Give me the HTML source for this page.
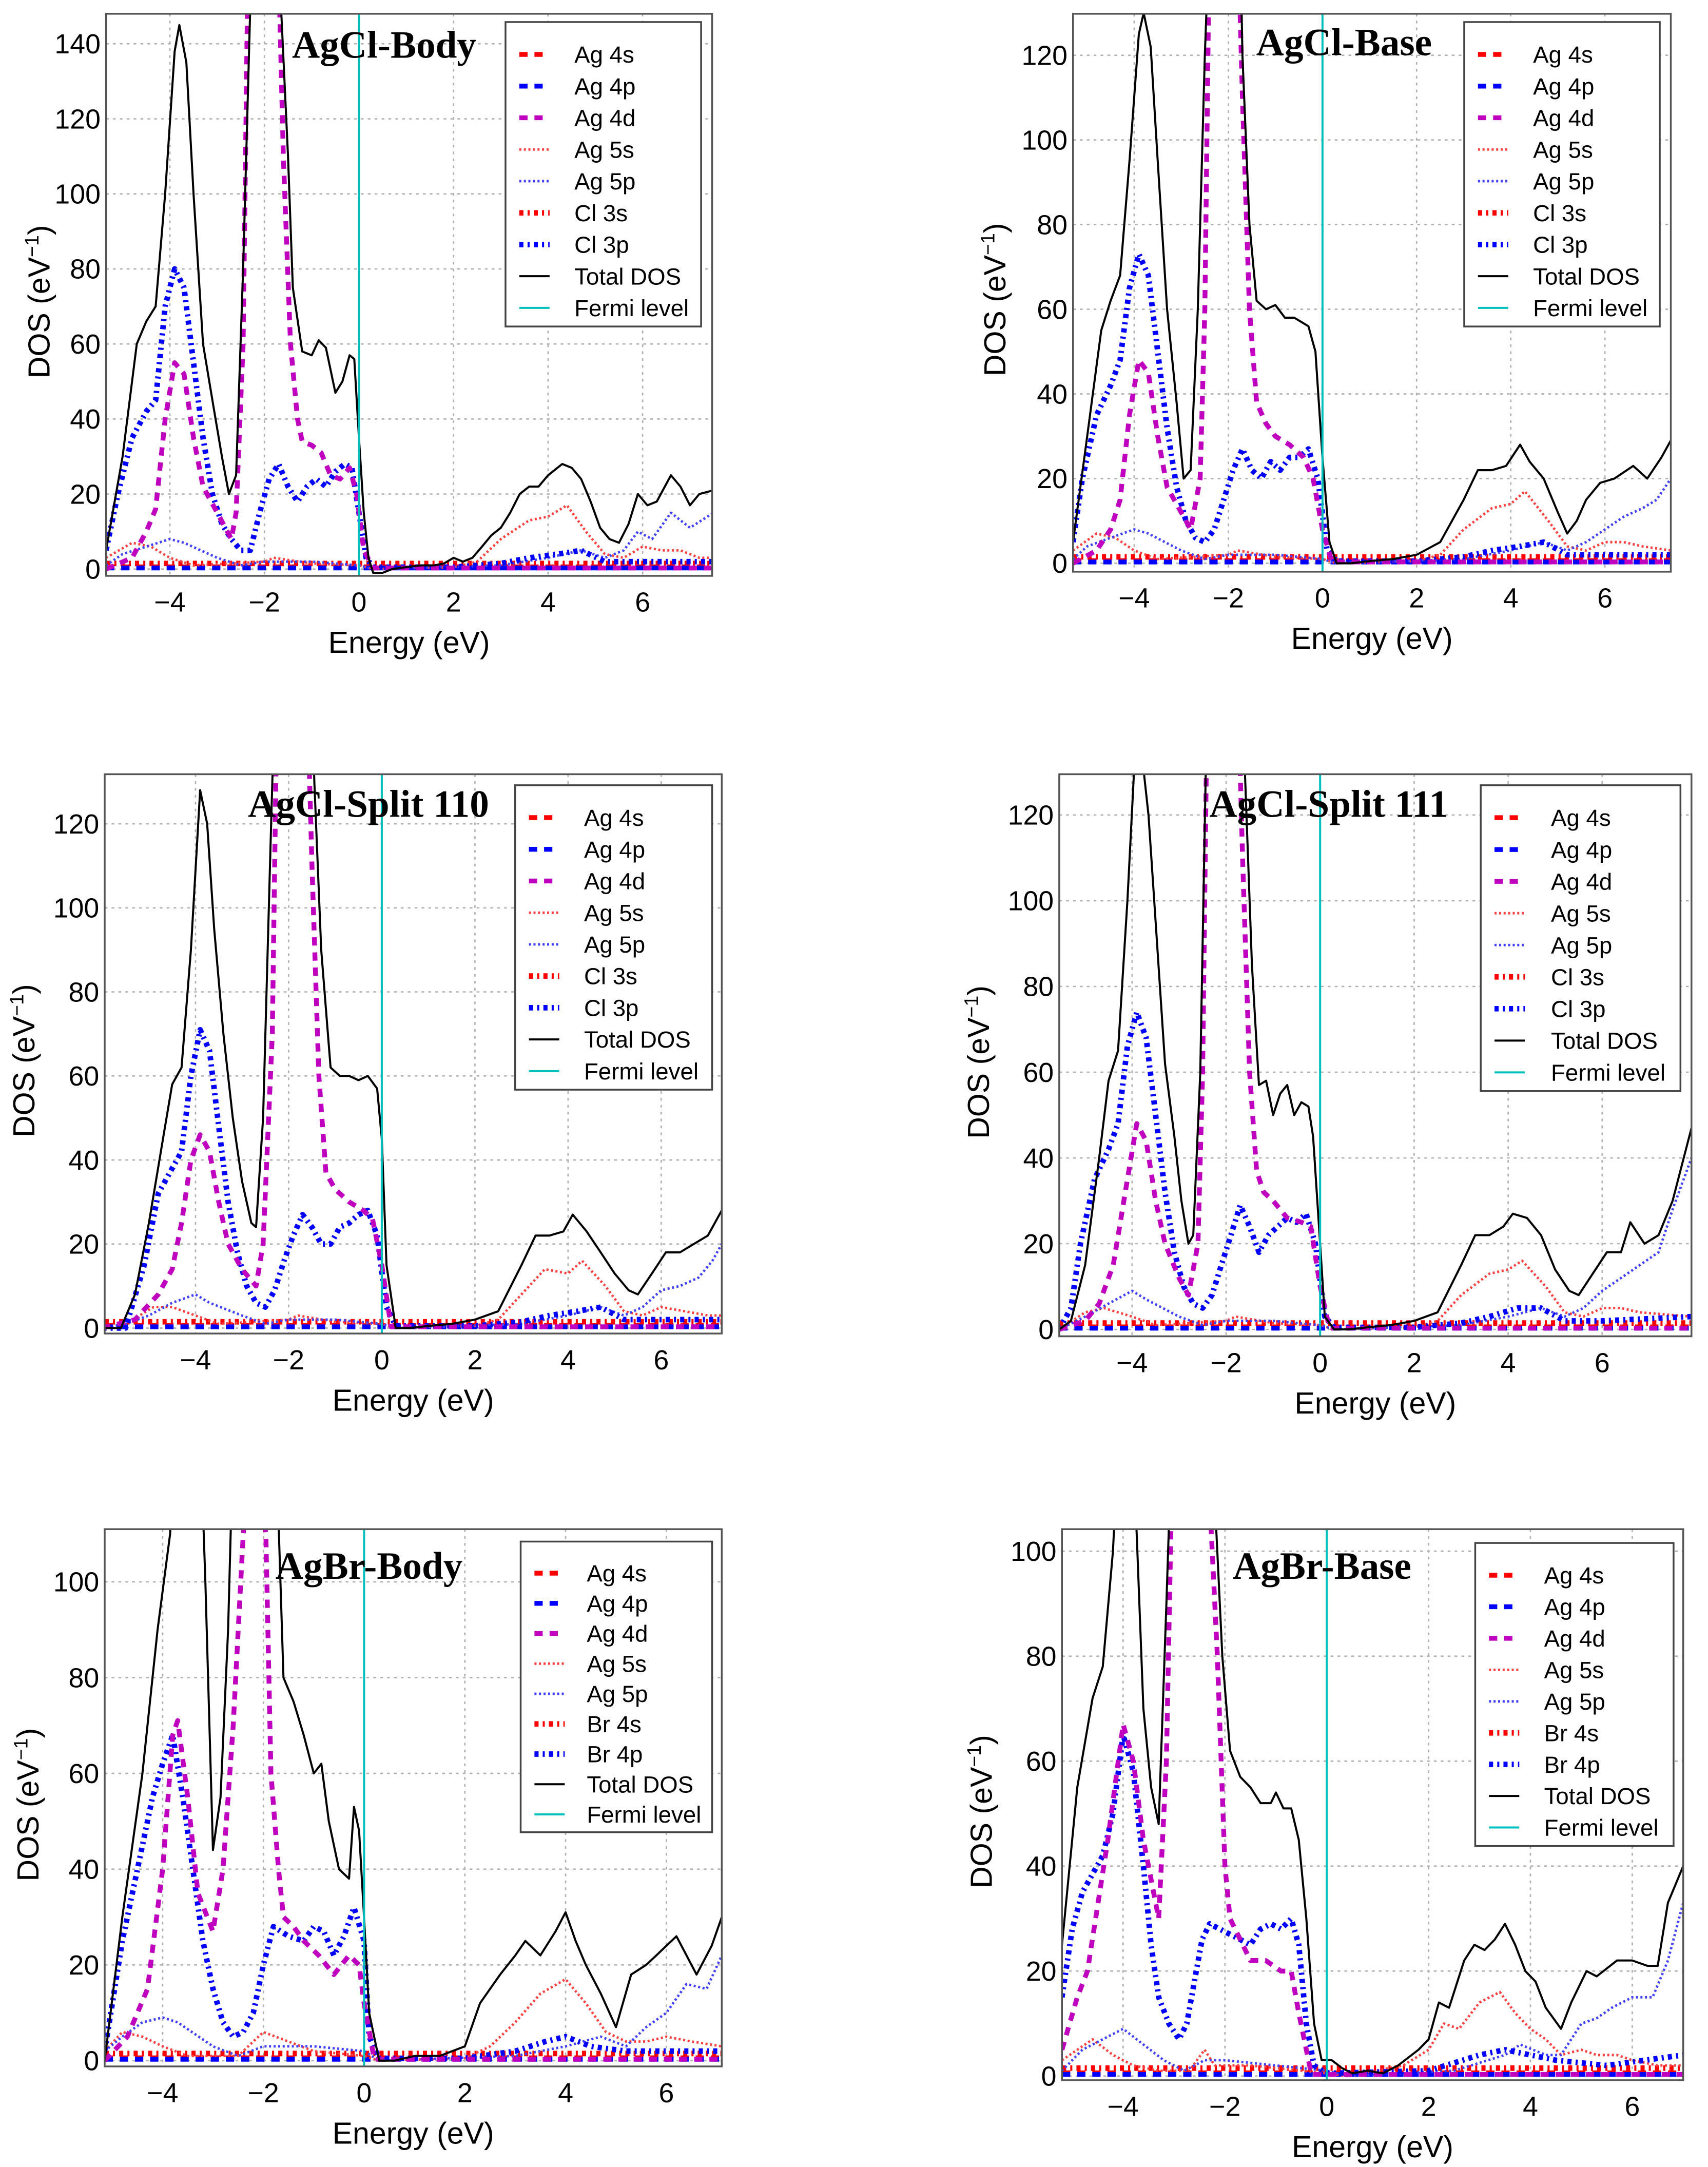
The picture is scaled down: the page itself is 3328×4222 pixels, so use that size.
<!DOCTYPE html>
<html><head><meta charset="utf-8"><style>
html,body{margin:0;padding:0;background:#fff}
svg{display:block}
text{font-family:"Liberation Sans",sans-serif}
.title{font-family:"Liberation Serif",serif;font-weight:bold}
</style></head><body>
<svg id="fig" width="3328" height="4222" viewBox="0 0 1240 1573" preserveAspectRatio="none" xmlns="http://www.w3.org/2000/svg"></svg>
<script>
// ---- Panel 1: AgCl-Body ----
const p1TotE=[-5.35,-5,-4.7,-4.5,-4.3,-4.1,-3.9,-3.8,-3.65,-3.5,-3.3,-3.1,-2.9,-2.75,-2.6,-2.45,-2.3,-2.25,-1.7,-1.65,-1.5,-1.4,-1.2,-1.0,-0.85,-0.7,-0.5,-0.35,-0.2,-0.1,0,0.1,0.2,0.3,0.5,0.7,1.0,1.3,1.6,1.8,2.0,2.2,2.4,2.6,2.8,3.0,3.2,3.4,3.6,3.8,4.0,4.3,4.5,4.7,4.9,5.1,5.3,5.5,5.7,5.9,6.1,6.3,6.6,6.8,7.0,7.2,7.5];
const p1TotD=[5,30,60,66,70,100,138,145,135,100,60,45,30,20,25,80,150,170,170,150,110,75,58,57,61,59,47,50,57,56,35,15,3,-1,-1,0,0.5,1,1,1.5,3,2,3,6,9,11,15,20,22,22,25,28,27,24,18,11,8,7,12,20,17,18,25,22,17,20,21];
const p1D4E=[-5.35,-4.8,-4.5,-4.3,-4.1,-3.9,-3.7,-3.5,-3.3,-3.0,-2.7,-2.6,-2.45,-2.35,-1.7,-1.6,-1.45,-1.3,-1.2,-1.0,-0.8,-0.6,-0.4,-0.2,-0.05,0.1,0.3,7.5];
const p1D4D=[0,3,10,16,40,55,52,35,22,15,8,15,60,160,160,110,60,40,34,33,31,25,24,27,20,5,0.3,0.3];
const p1P3E=[-5.35,-5.1,-4.8,-4.5,-4.3,-4.1,-3.9,-3.7,-3.5,-3.3,-3.1,-2.9,-2.7,-2.5,-2.3,-2.1,-1.9,-1.7,-1.5,-1.3,-1.1,-0.9,-0.7,-0.5,-0.3,-0.15,0,0.15,0.3,2,3,3.6,4.2,4.7,5.2,5.6,6.0,7.5];
const p1P3D=[5,20,35,42,45,70,80,75,55,35,20,12,8,5,5,15,24,28,22,18,22,24,22,26,28,27,15,3,0.5,0.5,1.5,3,4,5,2,2,2,2];
const p1S5E=[-5.35,-4.8,-4.4,-4,-3.5,-2,-1.8,-1,0,0.3,2,2.5,3,3.6,4.0,4.4,4.8,5.2,5.6,6.0,6.4,6.8,7.2,7.5];
const p1S5D=[3,7,6,3,1,2,3,1.5,1,0,0.5,2,8,13,14,17,10,4,3,6,5,5,3,3];
const p1P5E=[-5.35,-5,-4.5,-4,-3.7,-3,-2.5,-2,-1,0,0.3,3,4,4.7,5.2,5.6,5.9,6.2,6.6,7.0,7.5];
const p1P5D=[1,4,6,8,7,3,1,2,2,1,0,1,3,5,3,5,10,8,15,11,15];
// ---- Panel 2: AgCl-Base ----
const p2TotE=[-5.3,-5,-4.7,-4.5,-4.3,-4.1,-3.9,-3.8,-3.65,-3.5,-3.3,-3.1,-2.95,-2.8,-2.65,-2.5,-2.4,-1.75,-1.7,-1.55,-1.4,-1.2,-1.0,-0.8,-0.6,-0.3,-0.15,0,0.15,0.3,0.6,1,1.5,2,2.5,3,3.3,3.6,3.9,4.2,4.4,4.7,5.0,5.2,5.4,5.6,5.9,6.2,6.6,6.9,7.2,7.4];
const p2TotD=[5,30,55,62,68,95,125,130,122,95,60,38,20,22,60,120,150,150,120,80,62,60,61,58,58,56,50,25,5,0,0,0.5,1,2,5,15,22,22,23,28,24,20,12,7,10,15,19,20,23,20,25,29];
const p2D4E=[-5.3,-4.8,-4.5,-4.3,-4.1,-3.9,-3.7,-3.5,-3.3,-3.0,-2.8,-2.6,-2.5,-2.4,-1.8,-1.7,-1.55,-1.4,-1.2,-1.0,-0.7,-0.4,-0.2,0,0.2,7.4];
const p2D4D=[0,3,8,15,35,48,45,30,18,12,8,20,60,150,150,110,60,38,33,30,28,25,20,8,0.3,0.3];
const p2P3E=[-5.3,-5.1,-4.8,-4.5,-4.3,-4.1,-3.9,-3.7,-3.5,-3.3,-3.1,-2.9,-2.7,-2.5,-2.3,-2.1,-1.9,-1.7,-1.5,-1.3,-1.1,-0.9,-0.7,-0.5,-0.3,-0.1,0.1,0.3,2,3,3.6,4.2,4.7,5.2,6,7.4];
const p2P3D=[5,20,35,42,48,65,73,68,50,32,18,10,6,5,8,15,22,27,22,20,24,22,25,25,27,20,3,0.5,0.5,1.5,3,4,5,2,2,2];
const p2S5E=[-5.3,-4.8,-4.4,-4,-3.5,-2,-1.8,-1,0,0.3,2,2.5,3,3.6,4.0,4.3,4.8,5.2,5.6,6.0,6.4,6.8,7.4];
const p2S5D=[3,7,6,3,1,2,3,1.5,1,0,0.5,2,8,13,14,17,10,4,3,5,5,4,3];
const p2P5E=[-5.3,-5,-4.5,-4,-3.7,-3,-2.5,-2,-1,0,0.3,3,4,4.7,5.2,5.6,6.0,6.4,6.8,7.1,7.4];
const p2P5D=[1,4,6,8,7,3,1,2,2,1,0,1,3,5,3,5,8,11,13,15,20];
// ---- Panel 3: AgCl-Split 110 ----
const p3TotE=[-6,-5.6,-5.3,-5,-4.7,-4.5,-4.3,-4.1,-3.9,-3.75,-3.6,-3.4,-3.2,-3.0,-2.8,-2.7,-2.55,-2.4,-2.3,-1.5,-1.45,-1.3,-1.1,-0.9,-0.7,-0.5,-0.3,-0.1,0,0.1,0.3,0.6,1,1.5,2,2.5,3,3.3,3.6,3.9,4.1,4.4,4.7,5.0,5.3,5.5,5.8,6.1,6.4,6.7,7.0,7.3];
const p3TotD=[0,0,8,25,45,58,62,90,128,120,95,70,50,35,25,24,50,110,150,150,130,90,62,60,60,59,60,57,45,15,0,0,0.5,1,2,4,15,22,22,23,27,23,18,13,9,8,13,18,18,20,22,28];
const p3D4E=[-6,-5.3,-4.8,-4.5,-4.3,-4.1,-3.9,-3.7,-3.5,-3.3,-3.0,-2.7,-2.55,-2.35,-2.25,-1.6,-1.5,-1.35,-1.2,-1.0,-0.7,-0.4,-0.2,0,0.2,7.3];
const p3D4D=[0,2,8,14,25,40,46,42,30,20,14,10,20,70,150,150,110,60,37,33,30,28,26,15,0.3,0.3];
const p3P3E=[-6,-5.5,-5.1,-4.8,-4.5,-4.3,-4.1,-3.9,-3.7,-3.5,-3.3,-3.1,-2.9,-2.7,-2.5,-2.3,-2.1,-1.9,-1.7,-1.5,-1.3,-1.1,-0.9,-0.7,-0.5,-0.3,-0.1,0.1,0.3,2,3,3.6,4.2,4.7,5.2,6,7.3];
const p3P3D=[0,0,15,32,38,42,60,71,66,48,30,18,10,6,5,9,16,22,27,24,20,20,24,25,27,28,22,5,0.5,0.5,1.5,3,4,5,2,2,2];
const p3S5E=[-6,-5.5,-4.9,-4.5,-4,-3.5,-2,-1.8,-1,0,0.3,2,2.5,3,3.5,4.0,4.3,4.8,5.2,5.6,6.0,6.5,7.0,7.3];
const p3S5D=[0,1,5,5,3,1,2,3,1.5,1,0,0.5,2,8,14,13,16,10,4,3,5,4,3,3];
const p3P5E=[-6,-5.5,-5,-4.5,-4,-3.7,-3,-2.5,-2,-1,0,0.3,3,4,4.7,5.2,5.6,6.0,6.4,6.8,7.1,7.3];
const p3P5D=[0,1,3,6,8,6,3,1,2,2,1,0,1,3,5,3,5,9,10,12,16,20];
// ---- Panel 4: AgCl-Split 111 ----
const p4TotE=[-5.55,-5.3,-5,-4.7,-4.5,-4.3,-4.1,-3.95,-3.8,-3.65,-3.5,-3.3,-3.1,-2.95,-2.8,-2.7,-2.55,-2.45,-2.4,-1.65,-1.6,-1.45,-1.3,-1.15,-1.0,-0.85,-0.7,-0.55,-0.4,-0.25,-0.15,0,0.1,0.3,0.6,1,1.5,2,2.5,3,3.3,3.6,3.9,4.1,4.4,4.7,5.0,5.3,5.5,5.8,6.1,6.4,6.6,6.9,7.2,7.5,7.9];
const p4TotD=[0,2,15,40,58,65,100,132,135,120,95,62,45,30,20,22,60,120,150,150,130,85,57,58,50,55,57,50,53,52,45,20,3,0,0,0.5,1,2,4,15,22,22,24,27,26,22,14,9,8,13,18,18,25,20,22,30,47];
const p4D4E=[-5.55,-5,-4.7,-4.4,-4.1,-3.9,-3.7,-3.5,-3.3,-3.0,-2.8,-2.6,-2.5,-2.4,-1.75,-1.65,-1.5,-1.35,-1.2,-1.0,-0.7,-0.4,-0.2,0,0.2,7.9];
const p4D4D=[0,2,6,15,35,48,44,30,20,12,8,20,60,150,150,110,60,37,32,30,26,25,24,10,0.3,0.3];
const p4P3E=[-5.55,-5.3,-5.1,-4.8,-4.5,-4.3,-4.1,-3.9,-3.7,-3.5,-3.3,-3.1,-2.9,-2.7,-2.5,-2.3,-2.1,-1.9,-1.7,-1.5,-1.3,-1.1,-0.9,-0.7,-0.5,-0.3,-0.1,0.1,0.3,2,3,3.6,4.2,4.7,5.2,6,7.9];
const p4P3D=[0,5,20,35,42,48,66,74,68,50,32,18,10,6,5,8,15,22,29,24,18,22,24,26,25,27,20,3,0.5,0.5,1.5,3,5,5,2,2,3];
const p4S5E=[-5.55,-5,-4.6,-4,-3.5,-2,-1.8,-1,0,0.3,2,2.5,3,3.6,4.0,4.3,4.8,5.2,5.6,6.0,6.4,6.8,7.9];
const p4S5D=[0,4,5,3,1,2,3,1.5,1,0,0.5,2,8,13,14,16,10,4,3,5,5,4,3];
const p4P5E=[-5.55,-5,-4.5,-4,-3.7,-3,-2.5,-2,-1,0,0.3,3,4,4.7,5.2,5.6,6.0,6.4,6.8,7.2,7.5,7.9];
const p4P5D=[0,3,6,9,7,3,1,2,2,1,0,1,3,5,3,5,9,12,15,18,28,40];
// ---- Panel 5: AgBr-Body ----
const p5TotE=[-5.15,-4.8,-4.4,-4.1,-3.85,-3.8,-3.25,-3.15,-3.0,-2.85,-2.7,-2.6,-1.75,-1.6,-1.4,-1.2,-1.0,-0.85,-0.7,-0.5,-0.3,-0.2,-0.1,0,0.1,0.3,0.6,1,1.5,2,2.3,2.7,3.0,3.2,3.5,3.8,4.0,4.2,4.4,4.7,5.0,5.3,5.6,5.8,6.0,6.2,6.4,6.6,6.9,7.1];
const p5TotD=[0,30,60,90,110,130,130,100,44,55,90,130,130,80,75,68,60,62,50,40,38,53,48,30,10,0,0,1,1,3,12,18,22,25,22,27,31,25,20,14,7,18,20,22,24,26,22,18,24,30];
const p5D4E=[-5.15,-4.7,-4.3,-4.0,-3.8,-3.7,-3.5,-3.3,-3.0,-2.8,-2.6,-2.4,-2.2,-1.95,-1.85,-1.7,-1.6,-1.4,-1.2,-0.9,-0.6,-0.3,-0.1,0,0.2,7.1];
const p5D4D=[0,5,15,40,68,71,55,35,27,40,70,110,130,110,60,40,30,28,25,22,18,22,20,12,0.3,0.3];
const p5P3E=[-5.15,-4.8,-4.5,-4.2,-4.0,-3.8,-3.6,-3.4,-3.2,-3.0,-2.8,-2.6,-2.4,-2.2,-2.0,-1.8,-1.5,-1.2,-1.0,-0.8,-0.6,-0.4,-0.2,0,0.1,0.3,2,3,3.6,4,4.5,5.2,6,7.1];
const p5P3D=[2,25,40,55,62,68,55,40,25,15,8,5,6,10,20,28,26,25,28,27,22,26,32,25,5,0.5,0.5,2,4,5,3,2,2,2];
const p5S5E=[-5.15,-4.8,-4.4,-4,-3.5,-2.5,-2.2,-2.0,-1,0,0.3,2,2.5,3,3.5,4.0,4.4,4.8,5.2,5.6,6.0,6.5,7.1];
const p5S5D=[2,6,5,3,1,1,4,6,2,1,0,0.5,3,8,14,17,12,6,4,4,5,4,3];
const p5P5E=[-5.15,-4.8,-4.4,-4,-3.7,-3,-2.5,-2,-1,0,0.3,3,4,4.7,5.2,5.6,6.0,6.4,6.8,7.1];
const p5P5D=[2,5,8,9,8,3,1,3,3,2,0,1,3,5,3,7,10,16,15,22];
// ---- Panel 6: AgBr-Base ----
const p6TotE=[-5.2,-4.9,-4.6,-4.4,-4.2,-4.1,-3.8,-3.6,-3.45,-3.3,-3.15,-3.05,-2.25,-2.05,-1.9,-1.7,-1.5,-1.3,-1.1,-1.0,-0.85,-0.7,-0.55,-0.4,-0.25,-0.1,0.1,0.3,0.5,0.8,1.1,1.4,1.8,2.0,2.2,2.4,2.7,2.9,3.1,3.3,3.5,3.7,3.9,4.1,4.3,4.6,4.8,5.1,5.3,5.7,6.0,6.3,6.5,6.7,7.0];
const p6TotD=[25,55,72,78,100,120,120,70,55,48,90,120,120,80,62,57,55,52,52,54,51,51,45,30,10,3,3,1.5,0.5,1,0.5,2,5,7,14,13,22,25,24,26,29,25,20,18,13,9,14,20,19,22,22,21,21,33,40];
const p6D4E=[-5.2,-4.9,-4.7,-4.3,-4.0,-3.8,-3.6,-3.4,-3.3,-3.15,-3.05,-2.3,-2.15,-2.0,-1.9,-1.7,-1.5,-1.2,-0.9,-0.7,-0.55,-0.4,-0.3,7.0];
const p6D4D=[5,15,20,45,67,60,45,35,30,60,110,110,80,40,30,26,22,22,20,20,12,5,0.3,0.3];
const p6P3E=[-5.2,-5.0,-4.8,-4.4,-4.2,-4.0,-3.8,-3.6,-3.45,-3.3,-3.1,-2.9,-2.75,-2.6,-2.45,-2.3,-2.1,-1.9,-1.7,-1.5,-1.3,-1.1,-0.9,-0.7,-0.55,-0.4,-0.25,0,2,3,3.5,4.0,4.5,5.5,7.0];
const p6P3D=[15,28,35,42,50,65,58,40,25,15,10,7,10,18,26,29,28,27,26,25,28,29,28,30,25,10,2,0.5,1,4,5,4,3,2,4];
const p6S5E=[-5.2,-4.9,-4.6,-4.2,-3.8,-3.3,-2.7,-2.4,-2.2,-1.5,-0.5,0,0.4,1.5,2.0,2.3,2.6,3.0,3.4,3.7,4.0,4.3,4.6,5.0,5.3,5.7,6.0,6.5,7.0];
const p6S5D=[3,5,7,4,2,1,1,5,2,2,1,0.5,0,2,5,10,9,14,16,12,9,7,4,5,4,4,3,2,2];
const p6P5E=[-5.2,-4.8,-4.4,-4.0,-3.6,-3.2,-2.8,-2.4,-2.0,-1.0,0,0.4,2.5,3.5,3.8,4.3,4.6,5.0,5.3,5.6,6.0,6.4,6.7,7.0];
const p6P5D=[1,5,7,9,6,3,1,3,3,2,1,0,1,4,6,4,4,10,11,13,15,15,22,33];

const NS='http://www.w3.org/2000/svg';
const svg=document.getElementById('fig');
function mk(tag,attrs,parent){const e=document.createElementNS(NS,tag);for(const k in attrs)e.setAttribute(k,attrs[k]);(parent||svg).appendChild(e);return e;}

const styles={
  s4:{stroke:'#ff0000',w:3.5,dash:'6 5'},
  p4:{stroke:'#0000ff',w:3.5,dash:'6 5'},
  d4:{stroke:'#bf00bf',w:3.5,dash:'6 5'},
  s5:{stroke:'#ff4040',w:1.8,dash:'1.5 1.8'},
  p5:{stroke:'#4040ff',w:1.8,dash:'1.5 1.8'},
  x3s:{stroke:'#ff0000',w:4,dash:'3 3 1.5 3'},
  x3p:{stroke:'#0000ff',w:4,dash:'3 3 1.5 3'},
  tot:{stroke:'#000',w:1.5,dash:''},
  fermi:{stroke:'#00bfbf',w:1.5,dash:''}
};

const panels=[
 {id:'agcl-body',title:'AgCl-Body',L:77,R:517,T:10,B:418,x0:-5.35,x1:7.47,y0:-1.8,y1:148,yt:[0,20,40,60,80,100,120,140],tx:212,ty:42,ylx:36,leg:[367,16,142,221],ltx:417,el:'Cl',
  tot:[p1TotE,p1TotD],d4:[p1D4E,p1D4D],x3p:[p1P3E,p1P3D],s5:[p1S5E,p1S5D],p5:[p1P5E,p1P5D]},
 {id:'agcl-base',title:'AgCl-Base',L:779,R:1213,T:10,B:415,x0:-5.3,x1:7.4,y0:-2,y1:129.8,yt:[0,20,40,60,80,100,120],tx:912,ty:40,ylx:730,leg:[1063,16,142,221],ltx:1113,el:'Cl',
  tot:[p2TotE,p2TotD],d4:[p2D4E,p2D4D],x3p:[p2P3E,p2P3D],s5:[p2S5E,p2S5D],p5:[p2P5E,p2P5D]},
 {id:'agcl-split-110',title:'AgCl-Split 110',L:76,R:524,T:562,B:968,x0:-5.95,x1:7.3,y0:-1.3,y1:131.8,yt:[0,20,40,60,80,100,120],tx:180,ty:593,ylx:25,leg:[374,570,143,221],ltx:424,el:'Cl',
  tot:[p3TotE,p3TotD],d4:[p3D4E,p3D4D],x3p:[p3P3E,p3P3D],s5:[p3S5E,p3S5D],p5:[p3P5E,p3P5D]},
 {id:'agcl-split-111',title:'AgCl-Split 111',L:769,R:1228,T:562,B:970,x0:-5.55,x1:7.9,y0:-1.6,y1:129.5,yt:[0,20,40,60,80,100,120],tx:878,ty:593,ylx:718,leg:[1075,570,145,222],ltx:1126,el:'Cl',
  tot:[p4TotE,p4TotD],d4:[p4D4E,p4D4D],x3p:[p4P3E,p4P3D],s5:[p4S5E,p4S5D],p5:[p4P5E,p4P5D]},
 {id:'agbr-body',title:'AgBr-Body',L:76,R:524,T:1110,B:1500,x0:-5.15,x1:7.1,y0:-1.2,y1:111,yt:[0,20,40,60,80,100],tx:200,ty:1146,ylx:28,leg:[378,1119,139,211],ltx:426,el:'Br',
  tot:[p5TotE,p5TotD],d4:[p5D4E,p5D4D],x3p:[p5P3E,p5P3D],s5:[p5S5E,p5S5D],p5:[p5P5E,p5P5D]},
 {id:'agbr-base',title:'AgBr-Base',L:771,R:1222,T:1110,B:1510,x0:-5.2,x1:7.0,y0:-0.8,y1:104.2,yt:[0,20,40,60,80,100],tx:895,ty:1146,ylx:720,leg:[1071,1120,144,220],ltx:1121,el:'Br',
  tot:[p6TotE,p6TotD],d4:[p6D4E,p6D4D],x3p:[p6P3E,p6P3D],s5:[p6S5E,p6S5D],p5:[p6P5E,p6P5D]}
];

panels.forEach((p,pi)=>{
  const g=mk('g',{});
  
  
  const X=v=>p.L+(v-p.x0)/(p.x1-p.x0)*(p.R-p.L);
  const Y=v=>p.B-(v-p.y0)/(p.y1-p.y0)*(p.B-p.T);
  const cp=mk('clipPath',{id:'c'+pi},g);
  mk('rect',{x:p.L,y:p.T,width:p.R-p.L,height:p.B-p.T},cp);
  const xt=[];for(let v=Math.ceil(p.x0/2)*2;v<=p.x1;v+=2)xt.push(v);
  xt.forEach(v=>{
    const l=mk('line',{x1:X(v),x2:X(v),y1:p.T,y2:p.B,stroke:'#b0b0b0','stroke-width':1,'stroke-dasharray':'2 3'},g);
    
    
    const t=mk('text',{x:X(v),y:p.B+26,'font-size':20,'text-anchor':'middle'},g);
    t.textContent=(v<0?'\u2212'+(-v):''+v);
    
    
  });
  p.yt.forEach(v=>{
    const l=mk('line',{x1:p.L,x2:p.R,y1:Y(v),y2:Y(v),stroke:'#b0b0b0','stroke-width':1,'stroke-dasharray':'2 3'},g);
    
    
    const t=mk('text',{x:p.L-4,y:Y(v)+7,'font-size':20,'text-anchor':'end'},g);
    t.textContent=v;
    
    
  });
  const cg=mk('g',{'clip-path':'url(#c'+pi+')'},g);
  function flat(key,val){
    const st=styles[key];
    const l=mk('line',{x1:p.L,x2:p.R,y1:Y(val),y2:Y(val),stroke:st.stroke,'stroke-width':st.w,'stroke-dasharray':st.dash},cg);
    
    
  }
  function series(key,arr){
    const st=styles[key];
    const d=arr[0].map((e,i)=>(i?'L':'M')+X(e).toFixed(1)+' '+Y(arr[1][i]).toFixed(1)).join(' ');
    const path=mk('path',{d:d,fill:'none',stroke:st.stroke,'stroke-width':st.w,'stroke-dasharray':st.dash,'stroke-linejoin':'round'},cg);
    
    
  }
  flat('x3s',1.5);flat('s4',0.6);flat('p4',0.3);
  series('s5',p.s5);series('p5',p.p5);series('x3p',p.x3p);series('d4',p.d4);series('tot',p.tot);
  const fl=mk('line',{x1:X(0),x2:X(0),y1:p.T,y2:p.B,stroke:styles.fermi.stroke,'stroke-width':1.5},cg);
  
  
  const fr=mk('rect',{x:p.L,y:p.T,width:p.R-p.L,height:p.B-p.T,fill:'none',stroke:'#555','stroke-width':1.3},g);
  
  
  const tt=mk('text',{x:p.tx,y:p.ty,'font-size':28,class:'title'},g);
  tt.textContent=p.title;
  
  
  const xl=mk('text',{x:(p.L+p.R)/2,y:p.B+56,'font-size':22,'text-anchor':'middle'},g);
  xl.textContent='Energy (eV)';
  
  
  const yc=(p.T+p.B)/2+5;
  const yl=mk('text',{x:p.ylx,y:yc,'font-size':22,'text-anchor':'middle',transform:'rotate(-90 '+p.ylx+' '+yc+')'},g);
  yl.innerHTML='DOS (eV<tspan dy="-8" font-size="14">\u22121</tspan><tspan dy="8">)</tspan>';
  
  
  const lg=mk('g',{},g);
  
  
  mk('rect',{x:p.leg[0],y:p.leg[1],width:p.leg[2],height:p.leg[3],fill:'#fff',stroke:'#444','stroke-width':1.3},lg);
  const names=['Ag 4s','Ag 4p','Ag 4d','Ag 5s','Ag 5p',(p.el=='Cl'?'Cl 3s':'Br 4s'),(p.el=='Cl'?'Cl 3p':'Br 4p'),'Total DOS','Fermi level'];
  const keys=['s4','p4','d4','s5','p5','x3s','x3p','tot','fermi'];
  const step=(p.leg[3]-14)/9;
  names.forEach((n,i)=>{
    const yy=p.leg[1]+14+step*(i+0.5)-2;
    const st=styles[keys[i]];
    const ln=mk('line',{x1:p.leg[0]+10,x2:p.leg[0]+32,y1:yy,y2:yy,stroke:st.stroke,'stroke-width':st.w,'stroke-dasharray':st.dash},lg);
    
    
    const t=mk('text',{x:p.ltx,y:yy+6,'font-size':17},lg);
    t.textContent=n;
    
    
  });
});
</script>
</body></html>
